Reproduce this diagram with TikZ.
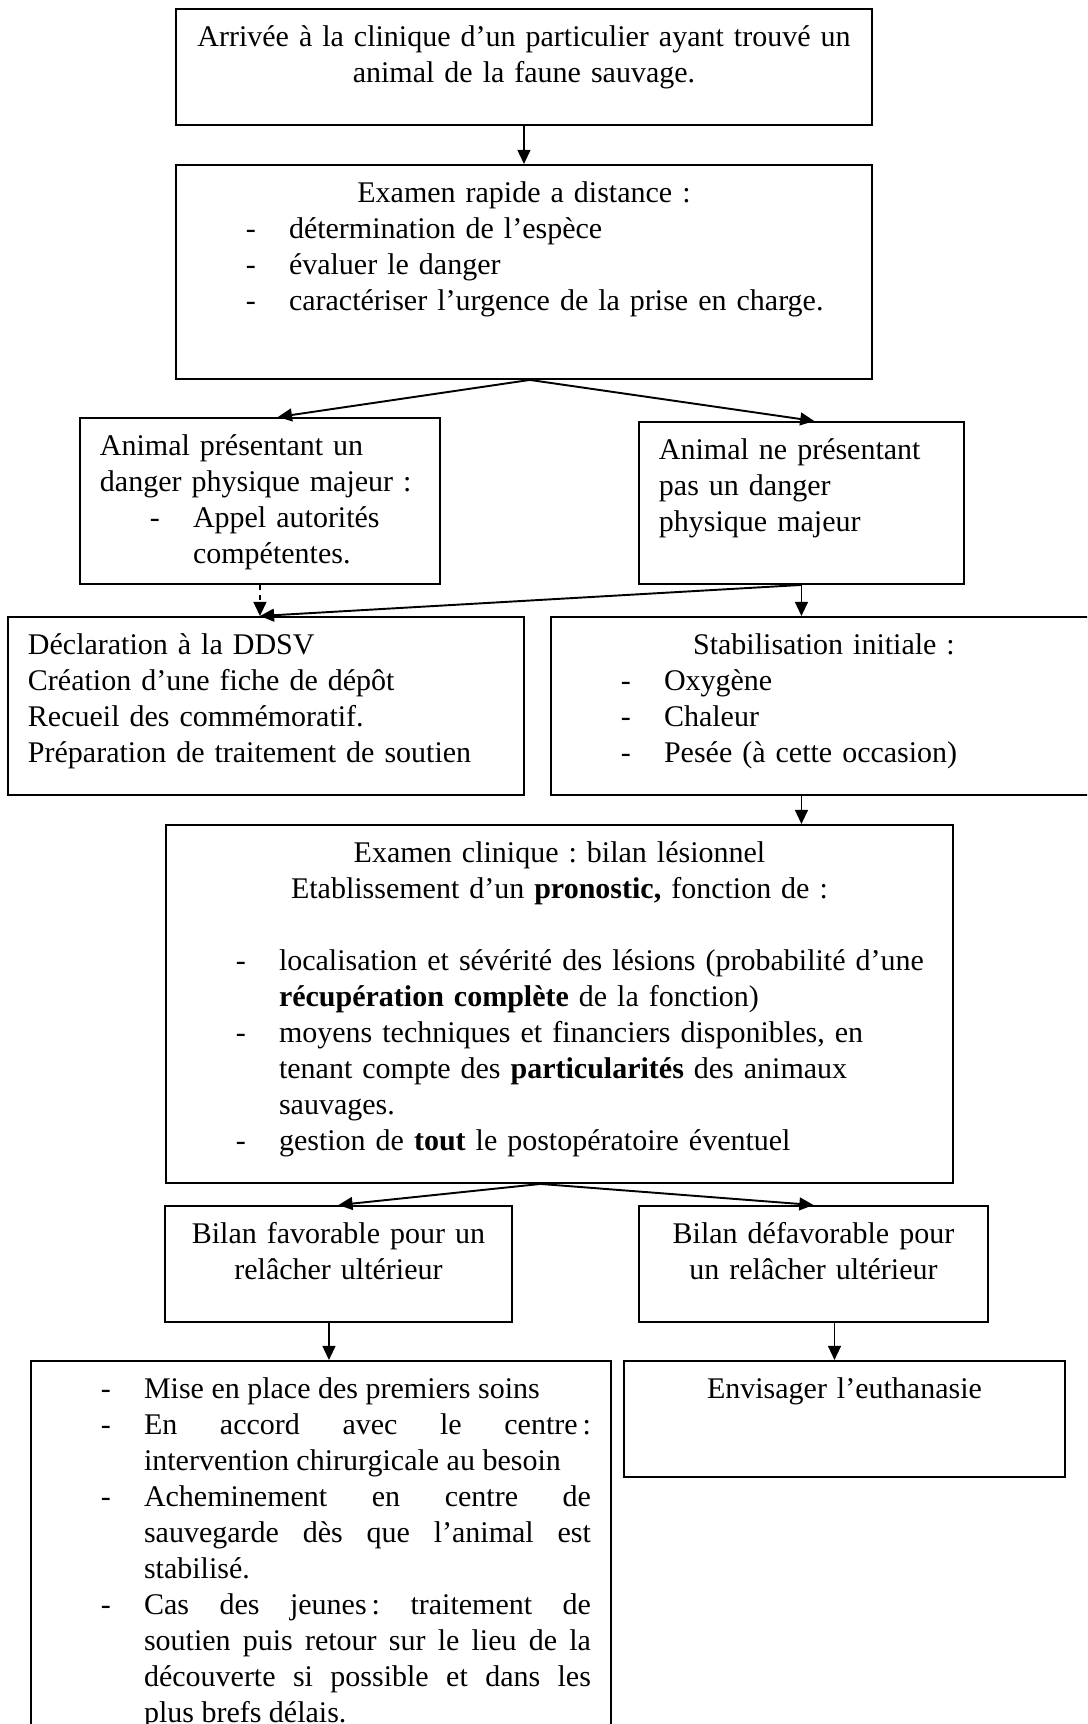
\documentclass[tikz,border=0pt]{standalone}
\usepackage{fontspec}
\setmainfont{Liberation Serif}
\usetikzlibrary{arrows.meta}
\frenchspacing

\newcommand{\marge}{\leftskip=5.8pt}
\newcommand{\tiret}[1]{\marge\hangindent=36.3pt\hangafter=0\noindent\llap{\makebox[16.8pt][l]{-}}#1\par}

\begin{document}
\begin{tikzpicture}[x=0.39pt, y=-0.39pt,
    box/.style={draw, line width=0.75pt, anchor=north west,
        inner xsep=2pt, inner ysep=0pt, text height=14.8pt,
        font=\fontsize{11.7}{14}\selectfont},
    arr/.style={line width=0.75pt, -{Triangle[length=5.5pt,width=5pt]}}]
    \path[use as bounding box, clip] (0,0) rectangle (1087,1724);

    \node[box, align=center, text width=267.44pt, text depth=30.44pt]
        (arrivee) at (175,8)
        {Arrivée à la clinique d’un particulier ayant trouvé un\\
         animal de la faune sauvage.};
    \node[box, text width=267.44pt, text depth=68.66pt]
        (examrap) at (175,164)
        {{\centering Examen rapide a distance :\par}
         \tiret{détermination de l’espèce}
         \tiret{évaluer le danger}
         \tiret{caractériser l’urgence de la prise en charge.}};

    \node[box, text width=136.4pt, text depth=49.94pt]
        (danger) at (79,417)
        {\marge Animal présentant un\newline danger physique majeur :\par
         \tiret{Appel autorités\newline compétentes.}};
    \node[box, text width=122.75pt, text depth=48.38pt]
        (nodanger) at (638,421)
        {\marge Animal ne présentant\newline pas un danger\newline physique majeur\par};

    \node[box, text width=197.24pt, text depth=54.62pt]
        (ddsv) at (7,616)
        {\marge Déclaration à la DDSV\newline
         Création d’une fiche de dépôt\newline
         Recueil des commémoratif.\newline
         Préparation de traitement de soutien\par};
    \node[box, text width=208.94pt, text depth=54.62pt]
        (stabil) at (550,616)
        {{\centering Stabilisation initiale :\par}
         \tiret{Oxygène}
         \tiret{Chaleur}
         \tiret{Pesée (à cette occasion)}};

    \node[box, text width=302.93pt, text depth=124.82pt]
        (examclin) at (165,824)
        {{\centering Examen clinique : bilan lésionnel\par
          Etablissement d’un \textbf{pronostic,} fonction de :\par}
         \vspace{\baselineskip}
         \tiret{localisation et sévérité des lésions (probabilité d’une\newline
            \textbf{récupération complète} de la fonction)}
         \tiret{moyens techniques et financiers disponibles, en\newline
            tenant compte des \textbf{particularités} des animaux\newline
            sauvages.}
         \tiret{gestion de \textbf{tout} le postopératoire éventuel}};

    \node[box, align=center, text width=131.33pt, text depth=30.44pt]
        (favor) at (164,1205)
        {Bilan favorable pour un\\relâcher ultérieur};
    \node[box, align=center, text width=132.11pt, text depth=30.44pt]
        (defavor) at (638,1205)
        {Bilan défavorable pour\\un relâcher ultérieur};

    \node[box, align=justify, text width=222.2pt, text depth=149pt]
        (soins) at (30,1360)
        {\rightskip=5.8pt
         \tiret{Mise en place des premiers soins}
         \tiret{En accord avec le centre\thinspace: \linebreak
            intervention chirurgicale au besoin}
         \tiret{Acheminement en centre de \linebreak
            sauvegarde dès que l’animal est \linebreak
            stabilisé.}
         \tiret{Cas des jeunes\thinspace: traitement de \linebreak
            soutien puis retour sur le lieu de la \linebreak
            découverte si possible et dans les \linebreak
            plus brefs délais.}};
    \node[box, align=center, text width=167.99pt, text depth=30.44pt]
        (euthan) at (623,1360)
        {Envisager l’euthanasie};

    % fleches
    \draw[arr] (arrivee.south) -- (examrap.north);
    \draw[arr] ([xshift=2.3pt]examrap.south) -- ([xshift=7pt]danger.north);
    \draw[arr] ([xshift=2.3pt]examrap.south) -- ([xshift=5pt]nodanger.north);
    \draw[arr, dash pattern=on 2pt off 2pt] (danger.south) -- (danger.south |- ddsv.north);
    \draw[arr] (nodanger.south) -- (danger.south |- ddsv.north);
    \draw[arr] (nodanger.south) -- (nodanger.south |- stabil.north);
    \draw[arr] (nodanger.south |- stabil.south) -- (nodanger.south |- examclin.north);
    \draw[arr] ([xshift=-7.4pt]examclin.south) -- (favor.north);
    \draw[arr] ([xshift=-7.4pt]examclin.south) -- (defavor.north);
    \draw[arr] ([xshift=-3.7pt]favor.south) -- ([xshift=-3.7pt]favor.south |- soins.north);
    \draw[arr] ([xshift=8.2pt]defavor.south) -- ([xshift=8.2pt]defavor.south |- euthan.north);
\end{tikzpicture}
\end{document}
